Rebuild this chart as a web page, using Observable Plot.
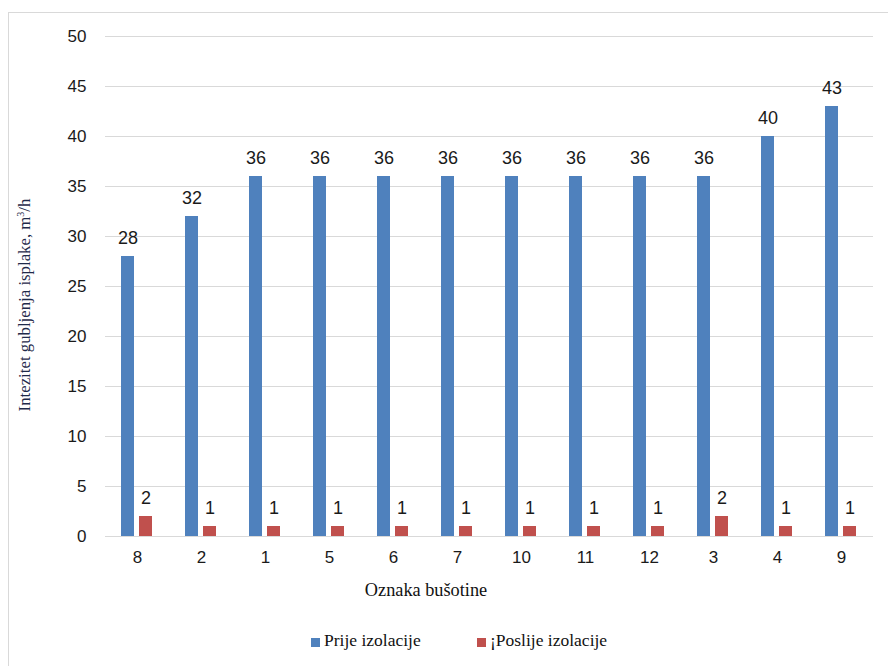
<!DOCTYPE html>
<html>
<head>
<meta charset="utf-8">
<script src="https://cdn.jsdelivr.net/npm/d3@7"></script>
<script src="https://cdn.jsdelivr.net/npm/@observablehq/plot@0.6"></script>
<style>
  html, body { margin: 0; padding: 0; background: #fff; width: 888px; height: 666px; overflow: hidden; }
  #frame { position: absolute; left: 8px; top: 12px; width: 900px; height: 700px; border: 1.5px solid #d9d9d9; box-sizing: border-box; }
  #chart { position: absolute; left: 0; top: 0; }
  .serif { font-family: "Liberation Serif", "Times New Roman", Times, "DejaVu Serif", serif; }
  .ytitle { position: absolute; left: 25px; top: 305px; transform: translate(-50%, -50%) rotate(-90deg); white-space: nowrap;
            font-size: 16.8px; color: #1f2a4a; }
  .xtitle { position: absolute; left: 426px; top: 590px; transform: translate(-50%, -50%); white-space: nowrap;
            font-size: 18.3px; color: #111; }
  .legend { position: absolute; top: 630px; left: 0; font-size: 17.5px; color: #111; }
  .legend .item { position: absolute; white-space: nowrap; display: flex; align-items: center; }
  .legend .sw { width: 9px; height: 9px; display: inline-block; margin-right: 4px; margin-top: 3px; }
</style>
</head>
<body>
<div id="frame"></div>
<div id="chart"></div>
<div class="ytitle serif">Intezitet gubljenja isplake, m<sup style="font-size:10px;vertical-align:6px">3</sup>/h</div>
<div class="xtitle serif">Oznaka bušotine</div>
<div class="legend serif" id="legend"></div>
<script>
const categories = ["8", "2", "1", "5", "6", "7", "10", "11", "12", "3", "4", "9"];
const seriesNames = ["Prije izolacije", "¡Poslije izolacije"];
const prije = [28, 32, 36, 36, 36, 36, 36, 36, 36, 36, 40, 43];
const poslije = [2, 1, 1, 1, 1, 1, 1, 1, 1, 2, 1, 1];
const yTicks = [0, 5, 10, 15, 20, 25, 30, 35, 40, 45, 50];
const colors = ["#4f81bd", "#c0504d"];

const data = [];
categories.forEach((c, i) => {
  data.push({cat: c, series: seriesNames[0], value: prije[i]});
  data.push({cat: c, series: seriesNames[1], value: poslije[i]});
});

const chart = Plot.plot({
  width: 888,
  height: 580,
  marginLeft: 103,
  marginRight: 13,
  marginTop: 36,
  marginBottom: 44,
  style: {fontFamily: "'Liberation Sans', Arial, sans-serif", fontSize: "17px", color: "#1a1a1a", background: "transparent"},
  fx: {domain: categories, padding: 0, axis: "bottom", tickSize: 0, tickPadding: 14, label: null},
  x: {domain: seriesNames, axis: null, paddingInner: 0.263, paddingOuter: 0.82},
  y: {domain: [0, 50], ticks: yTicks, tickSize: 0, tickPadding: 19, label: null, tickFormat: d => d},
  color: {domain: seriesNames, range: colors},
  marks: [
    Plot.gridY(yTicks, {stroke: "#d9d9d9", strokeOpacity: 1, strokeWidth: 1}),
    Plot.barY(data, {fx: "cat", x: "series", y: "value", fill: "series"}),
    Plot.text(data, {fx: "cat", x: "series", y: "value", text: d => String(d.value), lineAnchor: "bottom", dy: -13, fill: "#1a1a1a", fontSize: 18})
  ]
});
document.getElementById("chart").appendChild(chart);

const legend = document.getElementById("legend");
const legendX = [311, 477];
seriesNames.forEach((s, i) => {
  const it = document.createElement("div");
  it.className = "item";
  it.style.left = legendX[i] + "px";
  it.innerHTML = `<span class="sw" style="background:${colors[i]}"></span><span>${s}</span>`;
  legend.appendChild(it);
});
</script>
</body>
</html>
